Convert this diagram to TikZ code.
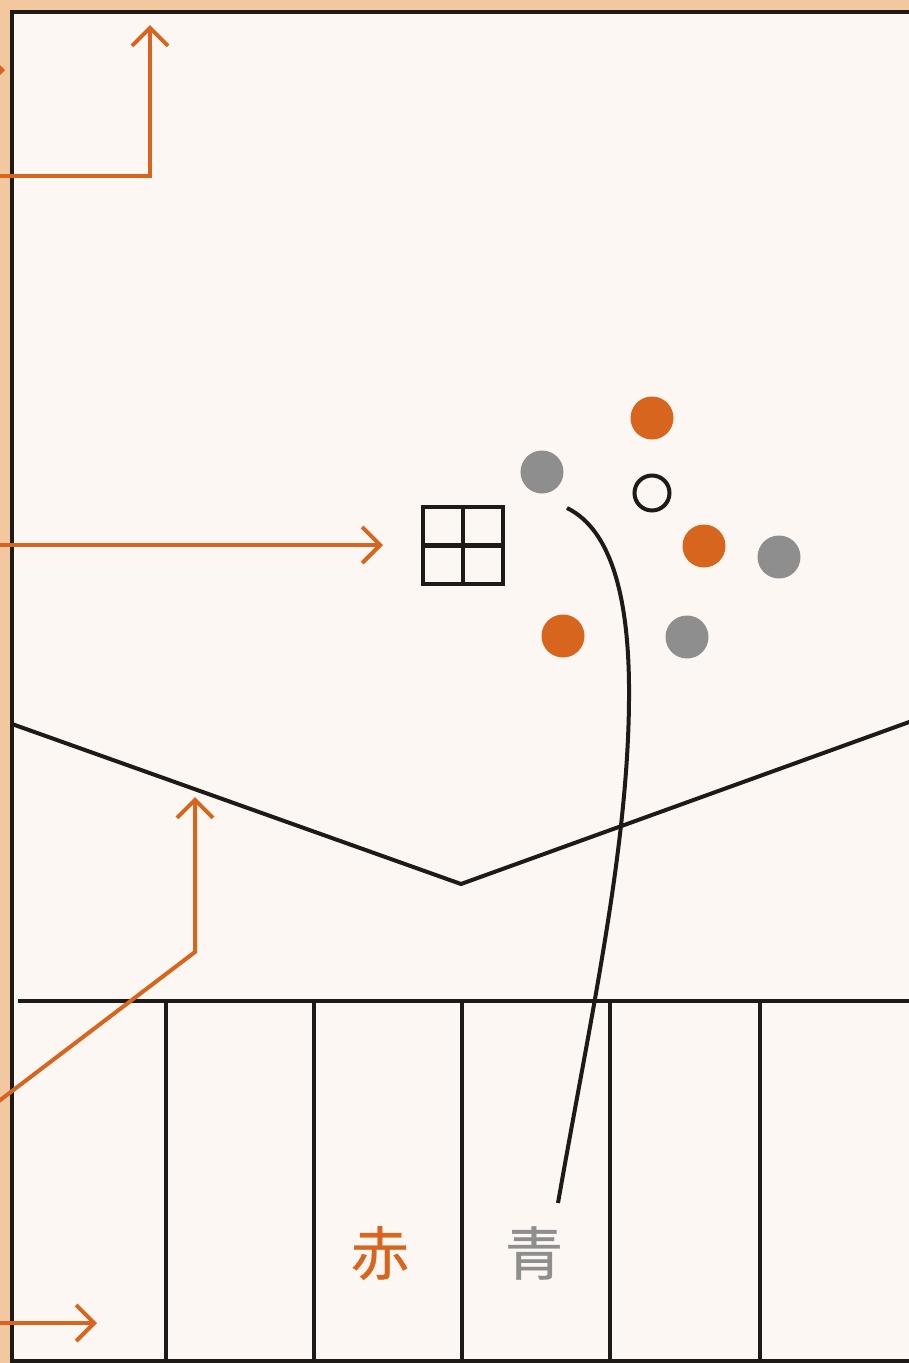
\documentclass[tikz,border=0pt]{standalone}
\usepackage{fontspec}
\newfontfamily\cjk{Noto Sans CJK JP}[FakeBold=0.6]
\usetikzlibrary{arrows.meta}
\definecolor{peach}{HTML}{F3C7A0}
\definecolor{cream}{HTML}{FCF7F2}
\definecolor{orng}{HTML}{D8651E}
\definecolor{gry}{HTML}{8E8E8E}
\definecolor{ink}{HTML}{1E1A18}
\tikzset{
  oarrow/.style={draw=orng, line width=4pt, -{Straight Barb[length=18pt,width=36pt,line width=4pt]}},
  bline/.style={draw=ink, line width=4pt},
  odot/.style={circle, fill=orng, minimum size=43pt, inner sep=0pt},
  gdot/.style={circle, fill=gry, minimum size=43pt, inner sep=0pt},
  ring/.style={circle, draw=ink, line width=4pt, minimum size=35pt, inner sep=0pt},
  kanji/.style={font=\cjk\fontsize{58}{58}\selectfont, inner sep=0pt},
}
\begin{document}
\begin{tikzpicture}[x=1pt,y=-1pt]
\useasboundingbox (0,0) rectangle (909,1363);
\clip (0,0) rectangle (909,1363);
\fill[peach] (0,0) rectangle (909,1363);
\fill[cream] (12,12) rectangle (915,1361);
% panel border
\draw[bline] (12,1370) -- (12,12) -- (915,12);
\draw[bline] (12,1361) -- (915,1361);
% V line
\coordinate (v1) at (12,724);
\coordinate (v2) at (461,884);
\coordinate (v3) at (912,721);
\draw[bline] (v1) -- (v2) -- (v3);
% bottom grid
\coordinate (h1) at (18,1001);
\coordinate (h2) at (912,1001);
\draw[bline] (h1) -- (h2);
\foreach \x/\n in {166/a,314/b,462/c,610/d,760/e}{
  \coordinate (t\n) at (\x,1001);
  \coordinate (b\n) at (\x,1365);
  \draw[bline] (t\n) -- (b\n);
}
% grid square
\node[draw=ink, line width=4.5pt, minimum width=80pt, minimum height=77pt, inner sep=0pt] (sq) at (463,545.5) {};
\draw[draw=ink, line width=4.5pt] (sq.north) -- (sq.south);
\draw[draw=ink, line width=4.5pt] (sq.west) -- (sq.east);
% dots
\node[odot] (o1) at (652,418) {};
\node[gdot] (g1) at (542,472) {};
\node[ring] (r1) at (652,493) {};
\node[odot] (o2) at (704,546) {};
\node[gdot] (g2) at (779,557) {};
\node[odot] (o3) at (563,636) {};
\node[gdot] (g3) at (687,637) {};
% texts
\node[kanji, text=orng] (aka) at (380,1253) {赤};
\node[kanji, text=gry] (ao) at (534,1253) {青};
% curve
\coordinate (cs) at (567,508);
\coordinate (ce) at (558,1203);
\draw[bline] (cs) .. controls (612,530) and (630,600) .. (629,700)
   .. controls (628,850) and (590,1020) .. (ce);
% orange arrows
\coordinate (a1s) at (-5,176);
\coordinate (a1m) at (150,176);
\coordinate (a1e) at (150,25);
\draw[oarrow] (a1s) -- (a1m) -- (a1e);
\coordinate (a0s) at (-30,70);
\coordinate (a0e) at (5,70);
\draw[oarrow] (a0s) -- (a0e);
\coordinate (a2s) at (-5,545);
\coordinate (a2e) at (383,545);
\draw[oarrow] (a2s) -- (a2e);
\coordinate (a3s) at (-5,1104);
\coordinate (a3m) at (195,952);
\coordinate (a3e) at (195,797);
\draw[oarrow] (a3s) -- (a3m) -- (a3e);
\coordinate (a4s) at (-5,1323);
\coordinate (a4e) at (97,1323);
\draw[oarrow] (a4s) -- (a4e);
\end{tikzpicture}
\end{document}
